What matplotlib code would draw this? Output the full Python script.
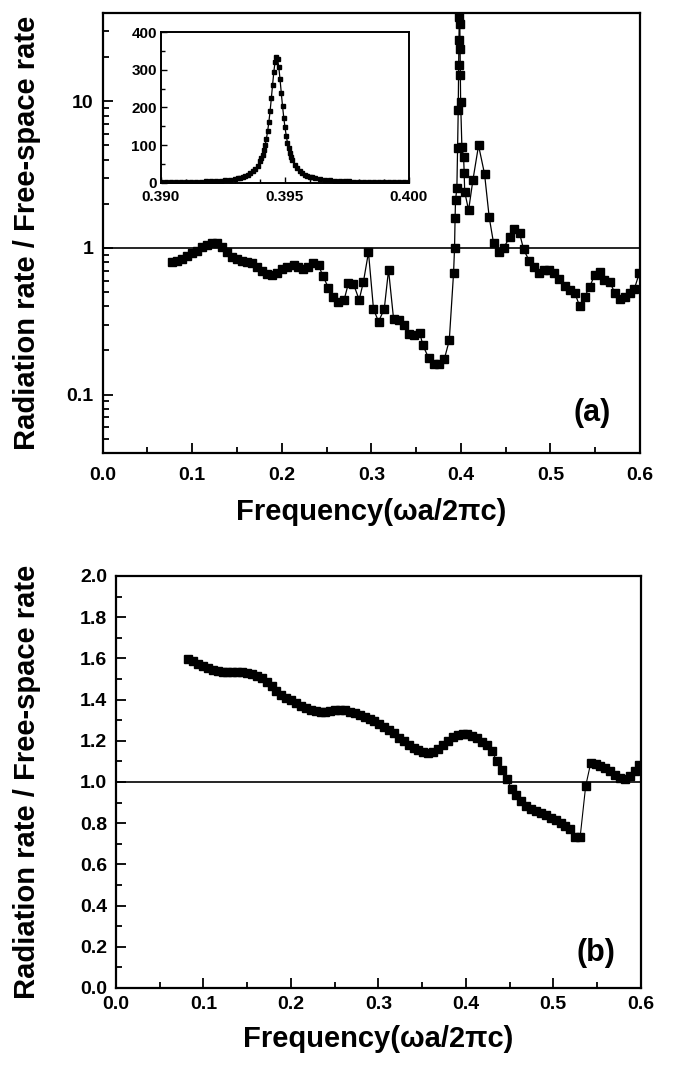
import matplotlib
matplotlib.use("Agg")
import matplotlib.pyplot as plt
from matplotlib.ticker import FixedLocator, LogLocator, MultipleLocator, NullFormatter

plt.rcParams['font.family'] = ['Liberation Sans', 'DejaVu Sans']
plt.rcParams['font.weight'] = 'bold'

# ---------------- data ----------------
top_freq = [0.0771, 0.0827, 0.0883, 0.0939, 0.0995, 0.1051, 0.1107, 0.1163, 0.1219, 0.1275,
            0.1331, 0.1387, 0.1443, 0.1499, 0.1555, 0.1611, 0.1667, 0.1723, 0.1779, 0.1835,
            0.1891, 0.1947, 0.2003, 0.2056, 0.2131, 0.2186, 0.2242, 0.2298, 0.2353, 0.2410,
            0.2458, 0.2520, 0.2577, 0.2633, 0.2696, 0.2744, 0.2800, 0.2864, 0.2912, 0.2968,
            0.3024, 0.3080, 0.3144, 0.3192, 0.3248, 0.3304, 0.3360, 0.3416, 0.3472, 0.3539,
            0.3576, 0.3639, 0.3703, 0.3759, 0.3815, 0.3870, 0.3918, 0.3929, 0.3935, 0.3940,
            0.3955, 0.3963, 0.3970, 0.3975, 0.3978, 0.3982, 0.3985, 0.3988, 0.3991, 0.3994,
            0.3997, 0.4011, 0.4030, 0.4037, 0.4042, 0.4086, 0.4134, 0.4197, 0.4264, 0.4316,
            0.4365, 0.4421, 0.4476, 0.4543, 0.4596, 0.4655, 0.4700, 0.4763, 0.4819, 0.4875,
            0.4931, 0.4979, 0.5042, 0.5098, 0.5157, 0.5213, 0.5270, 0.5325, 0.5381, 0.5437,
            0.5493, 0.5549, 0.5601, 0.5660, 0.5717, 0.5772, 0.5828, 0.5884, 0.5936, 0.5992]
top_rate = [0.807, 0.815, 0.835, 0.88, 0.92, 0.96, 1.01, 1.05, 1.087, 1.08,
            1.02, 0.94, 0.87, 0.835, 0.815, 0.807, 0.794, 0.746, 0.70, 0.665,
            0.655, 0.68, 0.72, 0.746, 0.766, 0.746, 0.716, 0.746, 0.794, 0.766,
            0.645, 0.537, 0.466, 0.431, 0.443, 0.575, 0.569, 0.443, 0.590, 0.934,
            0.383, 0.315, 0.383, 0.708, 0.329, 0.324, 0.299, 0.260, 0.256, 0.265,
            0.217, 0.178, 0.163, 0.163, 0.175, 0.234, 0.673, 1.0, 1.59, 2.12,
            2.55, 4.77, 8.7, 17.6, 26.0, 37.5, 335.0, 33.8, 22.8, 15.0,
            9.9, 4.89, 4.18, 3.22, 2.42, 1.81, 2.9, 5.0, 3.2, 1.62,
            1.076, 0.944, 0.998, 1.18, 1.34, 1.26, 0.98, 0.816, 0.746, 0.679,
            0.708, 0.708, 0.679, 0.615, 0.551, 0.518, 0.497, 0.403, 0.466, 0.54,
            0.655, 0.69, 0.606, 0.59, 0.497, 0.45, 0.466, 0.492, 0.524, 0.673]

inset_freq = [0.3900, 0.3902, 0.3904, 0.3906, 0.3908, 0.3910, 0.3912, 0.3914, 0.3916, 0.3918,
              0.3920, 0.3922, 0.3924, 0.3926, 0.3928, 0.3930, 0.3931, 0.3932, 0.3933, 0.3934,
              0.3935, 0.3936, 0.3937, 0.3938, 0.3939, 0.3940, 0.39405, 0.3941, 0.39415, 0.3942,
              0.39425, 0.3943, 0.39435, 0.3944, 0.39445, 0.3945, 0.39455, 0.3946, 0.39465, 0.3947,
              0.39475, 0.3948, 0.39485, 0.3949, 0.39495, 0.3950, 0.39505, 0.3951, 0.39515, 0.3952,
              0.39525, 0.3953, 0.3954, 0.3955, 0.3956, 0.3957, 0.3958, 0.3959, 0.3960, 0.3961,
              0.3962, 0.3964, 0.3966, 0.3968, 0.3970, 0.3972, 0.3974, 0.3976, 0.3978, 0.3980,
              0.3982, 0.3984, 0.3986, 0.3988, 0.3990, 0.3992, 0.3994, 0.3996, 0.3998, 0.4000]
inset_rate = [1.38, 1.51, 1.65, 1.82, 2.01, 2.24, 2.50, 2.81, 3.19, 3.65,
              4.21, 4.91, 5.80, 6.95, 8.50, 10.6, 12.0, 13.6, 15.5, 18.0,
              21.0, 24.8, 29.8, 36.3, 45.2, 57.4, 65.3, 74.8, 86.1, 100.0,
              117.0, 137.0, 162.0, 191.0, 225.0, 261.0, 295.0, 322.0, 335.0, 329.0,
              307.0, 275.0, 239.0, 204.0, 173.0, 147.0, 125.0, 106.0, 91.3, 79.0,
              68.8, 60.3, 47.3, 37.9, 31.0, 25.7, 21.7, 18.5, 16.0, 13.9,
              12.2, 9.67, 7.83, 6.45, 5.42, 4.61, 3.97, 3.45, 3.03, 2.68,
              2.39, 2.14, 1.93, 1.75, 1.59, 1.46, 1.34, 1.23, 1.13, 1.05]

bot_freq = [0.0827, 0.0883, 0.0939, 0.0995, 0.1051, 0.1107, 0.1163, 0.1219, 0.1275, 0.1331,
            0.1387, 0.1443, 0.1499, 0.1555, 0.1611, 0.1667, 0.1723, 0.1779, 0.1835, 0.1891,
            0.1947, 0.2003, 0.2059, 0.2115, 0.2171, 0.2227, 0.2283, 0.2339, 0.2395, 0.2451,
            0.2507, 0.2563, 0.2619, 0.2675, 0.2731, 0.2787, 0.2843, 0.2899, 0.2955, 0.3011,
            0.3067, 0.3123, 0.3179, 0.3235, 0.3291, 0.3347, 0.3403, 0.3459, 0.3515, 0.3571,
            0.3627, 0.3683, 0.3739, 0.3795, 0.3851, 0.3907, 0.3963, 0.4019, 0.4075, 0.4131,
            0.4187, 0.4243, 0.4299, 0.4355, 0.4411, 0.4467, 0.4523, 0.4579, 0.4635, 0.4691,
            0.4747, 0.4803, 0.4859, 0.4915, 0.4971, 0.5027, 0.5083, 0.5139, 0.5195, 0.5251,
            0.5307, 0.5371, 0.5428, 0.5484, 0.5540, 0.5596, 0.5652, 0.5708, 0.5764, 0.5820,
            0.5876, 0.5932, 0.5984]
bot_rate = [1.596, 1.585, 1.573, 1.562, 1.551, 1.545, 1.539, 1.535, 1.533, 1.532,
            1.532, 1.532, 1.531, 1.525, 1.515, 1.503, 1.485, 1.465, 1.440, 1.424,
            1.410, 1.398, 1.385, 1.368, 1.357, 1.349, 1.344, 1.341, 1.341, 1.346,
            1.350, 1.351, 1.348, 1.342, 1.334, 1.325, 1.316, 1.306, 1.296, 1.283,
            1.268, 1.254, 1.236, 1.216, 1.198, 1.180, 1.165, 1.153, 1.146, 1.142,
            1.146, 1.158, 1.178, 1.200, 1.218, 1.229, 1.233, 1.231, 1.224, 1.212,
            1.196, 1.178, 1.152, 1.100, 1.058, 1.015, 0.968, 0.935, 0.907, 0.885,
            0.869, 0.860, 0.850, 0.839, 0.827, 0.814, 0.800, 0.785, 0.771, 0.731,
            0.731, 0.981, 1.091, 1.088, 1.080, 1.068, 1.054, 1.033, 1.017, 1.013,
            1.027, 1.055, 1.083]

top_yticks = [0.1, 1, 10]
top_yticklabels = ['0.1', '1', '10']
x_ticks = [0.0, 0.1, 0.2, 0.3, 0.4, 0.5, 0.6]
inset_xticks = [0.390, 0.395, 0.400]
inset_yticks = [0, 100, 200, 300, 400]
bot_yticks = [0.0, 0.2, 0.4, 0.6, 0.8, 1.0, 1.2, 1.4, 1.6, 1.8, 2.0]

xlabel = 'Frequency(\u03c9a/2\u03c0c)'
ylabel = 'Radiation rate / Free-space rate'

# ---------------- figure ----------------
W, H = 674, 1067
fig = plt.figure(figsize=(W / 100, H / 100), dpi=100)


def rect(x0, y0, x1, y1):
    return [x0 / W, 1 - y1 / H, (x1 - x0) / W, (y1 - y0) / H]


SP = 1.6
TICK_FS = 14
LABEL_FS = 21


def style(ax, xpad, ypad):
    for s in ax.spines.values():
        s.set_linewidth(SP)
    ax.tick_params(which='both', direction='in', width=1.3, top=False, right=False,
                   labelsize=TICK_FS)
    ax.tick_params(axis='x', which='both', pad=xpad)
    ax.tick_params(axis='y', which='both', pad=ypad)
    ax.tick_params(which='major', length=7)
    ax.tick_params(which='minor', length=4)
    for lab in ax.get_xticklabels() + ax.get_yticklabels():
        lab.set_fontweight('bold')


# top panel
ax1 = fig.add_axes(rect(102.7, 13, 640, 453))
ax1.set_yscale('log')
ax1.plot(top_freq, top_rate, '-', color='black', lw=0.9, marker='s', ms=6.0,
         mfc='black', mec='black', clip_on=True)
ax1.axhline(1.0, color='black', lw=1.2)
ax1.set_xlim(0.0, 0.6)
ax1.set_ylim(0.04, 40)
ax1.xaxis.set_major_locator(FixedLocator(x_ticks))
ax1.xaxis.set_minor_locator(MultipleLocator(0.05))
ax1.yaxis.set_major_locator(FixedLocator(top_yticks))
ax1.set_yticklabels(top_yticklabels)
ax1.yaxis.set_minor_locator(LogLocator(base=10, subs=[2, 3, 4, 5, 6, 7, 8, 9]))
ax1.yaxis.set_minor_formatter(NullFormatter())
ax1.set_xticklabels([f'{v:.1f}' for v in x_ticks])
style(ax1, xpad=10, ypad=6.5)
ax1.set_xlabel(xlabel, fontsize=LABEL_FS, fontweight='bold', labelpad=10)
ax1.set_ylabel(ylabel, fontsize=LABEL_FS, fontweight='bold')
ax1.yaxis.set_label_coords((41 - 102.7) / (640 - 102.7), 0.5)
ax1.text(0.547, 0.075, '(a)', fontsize=22, fontweight='bold', ha='center', va='center',
         transform=ax1.transData)

# inset
axi = fig.add_axes(rect(161, 32.3, 409, 182.7))
axi.plot(inset_freq, inset_rate, '-', color='black', lw=0.9, marker='s', ms=2.6,
         mfc='black', mec='black')
axi.set_xlim(0.390, 0.400)
axi.set_ylim(0, 400)
axi.xaxis.set_major_locator(FixedLocator(inset_xticks))
axi.set_xticklabels(['0.390', '0.395', '0.400'])
axi.yaxis.set_major_locator(FixedLocator(inset_yticks))
axi.yaxis.set_minor_locator(MultipleLocator(50))
axi.xaxis.set_minor_locator(MultipleLocator(0.001))
for s in axi.spines.values():
    s.set_linewidth(1.4)
axi.tick_params(which='both', direction='in', width=1.0, labelsize=11)
axi.tick_params(axis='x', which='both', pad=5)
axi.tick_params(axis='y', which='both', pad=3)
axi.tick_params(which='major', length=4)
axi.tick_params(which='minor', length=3)
for lab in axi.get_xticklabels() + axi.get_yticklabels():
    lab.set_fontweight('bold')

# bottom panel
ax2 = fig.add_axes(rect(116, 576, 640.7, 988))
ax2.plot(bot_freq, bot_rate, '-', color='black', lw=0.8, marker='s', ms=5.2,
         mfc='black', mec='black')
ax2.axhline(1.0, color='black', lw=1.2)
ax2.set_xlim(0.0, 0.6)
ax2.set_ylim(0.0, 2.0)
ax2.xaxis.set_major_locator(FixedLocator(x_ticks))
ax2.xaxis.set_minor_locator(MultipleLocator(0.05))
ax2.yaxis.set_major_locator(FixedLocator(bot_yticks))
ax2.yaxis.set_minor_locator(MultipleLocator(0.1))
ax2.set_xticklabels([f'{v:.1f}' for v in x_ticks])
ax2.set_yticklabels([f'{v:.1f}' for v in bot_yticks])
style(ax2, xpad=5.5, ypad=6.5)
ax2.set_xlabel(xlabel, fontsize=LABEL_FS, fontweight='bold', labelpad=9)
ax2.set_ylabel(ylabel, fontsize=LABEL_FS, fontweight='bold')
ax2.yaxis.set_label_coords((41 - 116) / (640.7 - 116), 0.5)
ax2.text(0.549, 0.17, '(b)', fontsize=22, fontweight='bold', ha='center', va='center',
         transform=ax2.transData)

fig.savefig('out.png', dpi=100)
